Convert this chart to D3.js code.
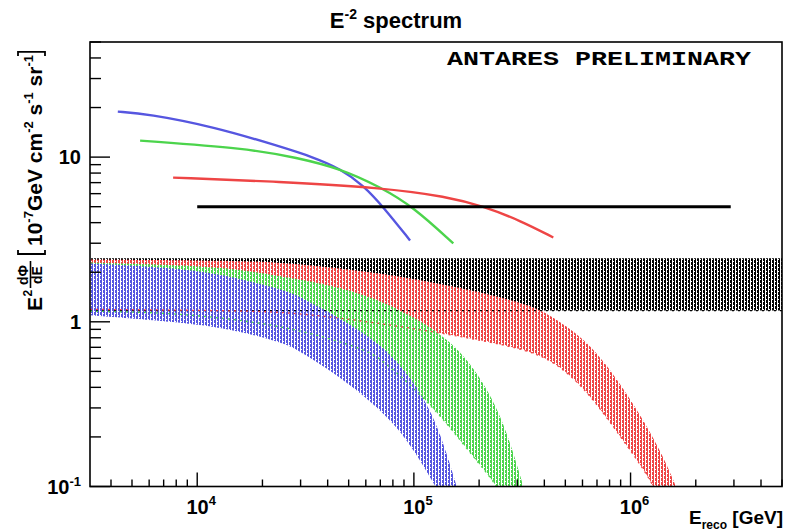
<!DOCTYPE html>
<html>
<head>
<meta charset="utf-8">
<script src="https://cdn.jsdelivr.net/npm/d3@7"></script>
<style>
  body { margin: 0; background: #fff; }
  text { font-family: "Liberation Sans", Arial, sans-serif; font-weight: bold; fill: #000; }
</style>
</head>
<body>
<svg id="chart" width="787" height="532"></svg>
<script>
// values (E in GeV, flux in 1e-7 GeV cm^-2 s^-1 sr^-1)
const blueLineE = [4.3e3, 5.9e3, 1.19e4, 2.41e4, 3.43e4, 4.57e4, 5.84e4, 7.23e4, 9.6e4]
const blueLineFlux = [18.9, 18.3, 15.3, 11.6, 10.0, 8.52, 6.75, 4.98, 3.12]
const greenLineE = [5.45e3, 1.7e4, 2.9e4, 4.57e4, 7.0e4, 9.96e4, 1.52e5]
const greenLineFlux = [12.6, 11.3, 9.9, 8.52, 6.58, 4.98, 2.99]
const redLineE = [7.74e3, 2.41e4, 7.0e4, 1.43e5, 2.1e5, 3.1e5, 4.4e5]
const redLineFlux = [7.51, 7.10, 6.53, 5.76, 5.01, 4.12, 3.25]
const blackLineE = [1e4, 2.9e6]
const blackLineFlux = [5, 5]

// bands: [E, flux] along the upper and the lower edge
const blackBandTop = [[3.2e3, 2.43], [5e6, 2.43]]
const blackBandBottom = [[3.2e3, 1.17], [5e6, 1.17]]
const redBandTop = [[3.2e3, 2.39], [1.5e4, 2.36], [3.0e4, 2.26], [1.03e5, 1.86], [3.45e5, 1.29], [4.4e5, 1.06], [6.3e5, 0.773], [9.0e5, 0.424], [1.28e6, 0.2], [1.61e6, 0.105], [1.76e6, 0.072]]
const redBandBottom = [[3.2e3, 1.19], [1.5e4, 1.17], [3.0e4, 1.14], [1.03e5, 0.913], [3.1e5, 0.70], [4.4e5, 0.584], [6.3e5, 0.385], [9.0e5, 0.2], [1.28e6, 0.105], [1.40e6, 0.072]]
const greenBandTop = [[3.2e3, 2.29], [8.8e3, 2.20], [1.5e4, 2.11], [3.0e4, 1.81], [6.1e4, 1.49], [1.23e5, 0.93], [1.77e5, 0.61], [2.51e5, 0.29], [3.17e5, 0.105], [3.45e5, 0.072]]
const greenBandBottom = [[3.2e3, 1.16], [6.9e3, 1.14], [1.39e4, 1.05], [2.55e4, 0.93], [3.98e4, 0.8], [6.1e4, 0.67], [7.2e4, 0.58], [1.03e5, 0.385], [1.47e5, 0.23], [1.97e5, 0.14], [2.45e5, 0.1], [2.73e5, 0.072]]
const blueBandTop = [[3.2e3, 2.26], [8.8e3, 2.11], [1.5e4, 1.86], [2.55e4, 1.55], [3.0e4, 1.42], [6.1e4, 0.85], [8.67e4, 0.56], [1.23e5, 0.29], [1.56e5, 0.105], [1.7e5, 0.072]]
const blueBandBottom = [[3.2e3, 1.095], [8.8e3, 0.99], [1.5e4, 0.89], [2.55e4, 0.74], [3.0e4, 0.66], [5.1e4, 0.42], [8.67e4, 0.23], [1.23e5, 0.105], [1.46e5, 0.072]]

const xMajor = [4, 5, 6]          // exponents of labelled x ticks
const yMajor = [-1, 0, 1]         // exponents of labelled y ticks

const colors = { blue: '#5656e0', green: '#4cd44c', red: '#ee4545', black: '#000000' }

const svg = d3.select('#chart')
const frame = { left: 90, top: 42, right: 782, bottom: 486.5 }

const x = d3.scaleLog().domain([3.2e3, 5e6]).range([frame.left, frame.right])
const y = d3.scaleLog().domain([0.1, 50]).range([frame.bottom, frame.top])

const defs = svg.append('defs')
defs.append('clipPath').attr('id', 'plotClip')
  .append('rect')
  .attr('x', frame.left).attr('y', frame.top)
  .attr('width', frame.right - frame.left).attr('height', frame.bottom - frame.top)

// hatch-like fill pattern, one per colour, on whole pixels
function hatch (name, color) {
  let p = defs.append('pattern')
    .attr('id', 'hatch-' + name)
    .attr('patternUnits', 'userSpaceOnUse')
    .attr('width', 6).attr('height', 8)
  p.append('rect').attr('width', 6).attr('height', 8).attr('fill', color)
  p.append('rect').attr('x', 0).attr('y', 0).attr('width', 1).attr('height', 8).attr('fill', '#fff')
  p.append('rect').attr('x', 3).attr('y', 0).attr('width', 1).attr('height', 8).attr('fill', '#fff')
  p.append('rect').attr('x', 1).attr('y', 1).attr('width', 1).attr('height', 1).attr('fill', '#fff')
  p.append('rect').attr('x', 1).attr('y', 5).attr('width', 1).attr('height', 1).attr('fill', '#fff')
  p.append('rect').attr('x', 4).attr('y', 3).attr('width', 1).attr('height', 1).attr('fill', '#fff')
  p.append('rect').attr('x', 4).attr('y', 7).attr('width', 1).attr('height', 1).attr('fill', '#fff')
}
Object.keys(colors).forEach(k => hatch(k, colors[k]))

const edge = d3.line().x(d => x(d[0])).y(d => y(d[1])).curve(d3.curveBasis)

function bandPath (top, bottom) {
  let upper = edge(top)
  let lower = edge(bottom.slice().reverse())
  return upper + 'L' + lower.slice(1) + 'Z'
}

const plot = svg.append('g').attr('clip-path', 'url(#plotClip)')

const bands = [
  ['black', blackBandTop, blackBandBottom],
  ['red', redBandTop, redBandBottom],
  ['green', greenBandTop, greenBandBottom],
  ['blue', blueBandTop, blueBandBottom]
]
bands.forEach(b => {
  plot.append('path')
    .attr('d', bandPath(b[1], b[2]))
    .attr('fill', 'url(#hatch-' + b[0] + ')')
})
// dashed lower edges show through the upper bands
bands.slice(0, 3).forEach(b => {
  plot.append('path')
    .attr('d', edge(b[2]))
    .attr('fill', 'none')
    .attr('stroke', colors[b[0]])
    .attr('stroke-width', 1.3)
    .attr('stroke-dasharray', '2 4')
})

const curve = d3.line().x(d => x(d[0])).y(d => y(d[1])).curve(d3.curveBasis)
const lines = [
  ['blue', blueLineE, blueLineFlux, 2.4],
  ['green', greenLineE, greenLineFlux, 2.4],
  ['red', redLineE, redLineFlux, 2.4],
  ['black', blackLineE, blackLineFlux, 3]
]
lines.forEach(l => {
  plot.append('path')
    .datum(d3.zip(l[1], l[2]))
    .attr('d', curve)
    .attr('fill', 'none')
    .attr('stroke', colors[l[0]])
    .attr('stroke-width', l[3])
})

// frame
svg.append('rect')
  .attr('x', frame.left).attr('y', frame.top)
  .attr('width', frame.right - frame.left).attr('height', frame.bottom - frame.top)
  .attr('fill', 'none').attr('stroke', '#000').attr('stroke-width', 1.6)

// axes with inward ticks, ROOT style
const xTicks = x.ticks().filter(v => v >= 3.2e3 && v <= 5e6)
const xAxis = svg.append('g')
xAxis.selectAll('line').data(xTicks).join('line')
  .attr('x1', d => x(d)).attr('x2', d => x(d))
  .attr('y1', frame.bottom)
  .attr('y2', d => frame.bottom - (Number.isInteger(Math.log10(d)) ? 14 : 7))
  .attr('stroke', '#000').attr('stroke-width', 1.4)

const yTicks = y.ticks().filter(v => v >= 0.1 && v <= 50)
const yAxis = svg.append('g')
yAxis.selectAll('line').data(yTicks).join('line')
  .attr('x1', frame.left)
  .attr('x2', d => frame.left + (Math.abs(Math.log10(d) - Math.round(Math.log10(d))) < 1e-9 ? 20 : 11))
  .attr('y1', d => y(d)).attr('y2', d => y(d))
  .attr('stroke', '#000').attr('stroke-width', 1.4)

xMajor.forEach(p => {
  let t = svg.append('text')
    .attr('x', x(Math.pow(10, p)) + 4).attr('y', 514)
    .attr('text-anchor', 'middle')
    .attr('font-size', 20)
  t.append('tspan').text('10')
  t.append('tspan').attr('dy', -9).attr('font-size', 13).text(p)
})

yMajor.forEach(p => {
  let t = svg.append('text')
    .attr('x', 81).attr('y', y(Math.pow(10, p)) + 7)
    .attr('text-anchor', 'end')
    .attr('font-size', 20)
  if (p === 0) t.text('1')
  else if (p === 1) t.text('10')
  else {
    t.append('tspan').text('10')
    t.append('tspan').attr('dy', -8).attr('font-size', 13).text(p)
  }
})

// title
const title = svg.append('text')
  .attr('x', 396).attr('y', 28)
  .attr('text-anchor', 'middle')
  .attr('font-size', 22)
title.append('tspan').text('E')
title.append('tspan').attr('dy', -9).attr('font-size', 14).text('-2')
title.append('tspan').attr('dy', 9).text(' spectrum')

svg.append('text')
  .attr('x', 447).attr('y', 65)
  .attr('font-size', 21)
  .attr('textLength', 304)
  .attr('lengthAdjust', 'spacingAndGlyphs')
  .style('font-family', '"Liberation Mono", "DejaVu Sans Mono", monospace')
  .text('ANTARES PRELIMINARY')

// x axis title
const xTitle = svg.append('text')
  .attr('x', 783).attr('y', 524)
  .attr('text-anchor', 'end')
  .attr('font-size', 19)
xTitle.append('tspan').text('E')
xTitle.append('tspan').attr('dy', 5).attr('font-size', 12).text('reco')
xTitle.append('tspan').attr('dy', -5).text(' [GeV]')

// y axis title, drawn in a rotated frame: local x runs up the page
const yTitle = svg.append('g').attr('transform', 'translate(42,311) rotate(-90)')
yTitle.append('text').attr('x', 0).attr('y', 0).attr('font-size', 21).text('E')
yTitle.append('text').attr('x', 14.5).attr('y', -10).attr('font-size', 12).text('2')
yTitle.append('text').attr('x', 36).attr('y', -14).attr('font-size', 14).attr('text-anchor', 'middle').text('dΦ')
yTitle.append('line').attr('x1', 23).attr('x2', 50).attr('y1', -11.5).attr('y2', -11.5)
  .attr('stroke', '#000').attr('stroke-width', 1.6)
yTitle.append('text').attr('x', 36).attr('y', 0).attr('font-size', 14).attr('text-anchor', 'middle').text('dE')

function bracket (g, x0, dir) {
  g.append('path')
    .attr('d', `M${x0 + 4 * dir},-24 L${x0},-24 L${x0},3 L${x0 + 4 * dir},3`)
    .attr('fill', 'none').attr('stroke', '#000').attr('stroke-width', 1.8)
}
bracket(yTitle, 57, 1)
const unit = yTitle.append('text').attr('x', 65).attr('y', 0).attr('font-size', 21)
unit.append('tspan').text('10')
unit.append('tspan').attr('dy', -9).attr('font-size', 13).text('-7')
unit.append('tspan').attr('dy', 9).text('GeV cm')
unit.append('tspan').attr('dy', -9).attr('font-size', 13).text('-2')
unit.append('tspan').attr('dy', 9).text(' s')
unit.append('tspan').attr('dy', -9).attr('font-size', 13).text('-1')
unit.append('tspan').attr('dy', 9).text(' sr')
unit.append('tspan').attr('dy', -9).attr('font-size', 13).text('-1')
const unitLen = unit.node().getComputedTextLength()
bracket(yTitle, 65 + unitLen + 3, -1)
</script>
</body>
</html>
